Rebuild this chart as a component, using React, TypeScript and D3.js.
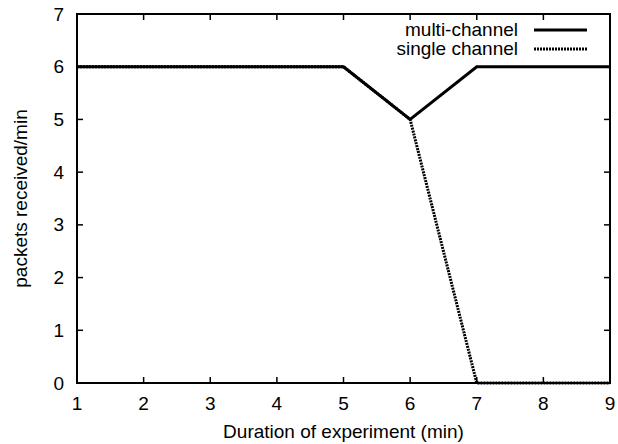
import React from "react";
import * as d3 from "d3";

const minutes = [1, 2, 3, 4, 5, 6, 7, 8, 9];
const multiChannel = [6, 6, 6, 6, 6, 5, 6, 6, 6];
const singleChannel = [6, 6, 6, 6, 6, 5, 0, 0, 0];
const xTicks = [1, 2, 3, 4, 5, 6, 7, 8, 9];
const yTicks = [0, 1, 2, 3, 4, 5, 6, 7];

const W = 618;
const H = 444;
const M = { left: 77, right: 8, top: 14, bottom: 61 };
const FONT = "'Liberation Sans', Arial, Helvetica, sans-serif";
const FS = 19;

export default function App() {
  const x = d3.scaleLinear().domain([1, 9]).range([M.left, W - M.right]);
  const y = d3.scaleLinear().domain([0, 7]).range([H - M.bottom, M.top]);
  const line = d3
    .line<number>()
    .x((_, i) => x(minutes[i]))
    .y((d) => y(d));

  const x0 = x.range()[0];
  const x1 = x.range()[1];
  const y0 = y.range()[0];
  const y1 = y.range()[1];
  const tick = 6;

  return (
    <svg
      width={W}
      height={H}
      style={{ position: "absolute", left: 0, top: 0, background: "#fff" }}
      fontFamily={FONT}
    >
      {/* ticks on all four sides, pointing inward */}
      {xTicks.map((t) => (
        <g key={"x" + t}>
          <line x1={x(t)} x2={x(t)} y1={y0} y2={y0 - tick} stroke="#000" strokeWidth={1.5} />
          <line x1={x(t)} x2={x(t)} y1={y1} y2={y1 + tick} stroke="#000" strokeWidth={1.5} />
          <text x={x(t)} y={y0 + 27} textAnchor="middle" fontSize={FS}>
            {t}
          </text>
        </g>
      ))}
      {yTicks.map((t) => (
        <g key={"y" + t}>
          <line x1={x0} x2={x0 + tick} y1={y(t)} y2={y(t)} stroke="#000" strokeWidth={1.5} />
          <line x1={x1} x2={x1 - tick} y1={y(t)} y2={y(t)} stroke="#000" strokeWidth={1.5} />
          <text x={x0 - 13} y={y(t) + 6.5} textAnchor="end" fontSize={FS}>
            {t}
          </text>
        </g>
      ))}

      <path d={line(multiChannel) ?? ""} fill="none" stroke="#000" strokeWidth={3} />
      <path
        d={line(singleChannel) ?? ""}
        fill="none"
        stroke="#000"
        strokeWidth={3}
        strokeDasharray="2,1"
      />

      <rect
        x={x0}
        y={y1}
        width={x1 - x0}
        height={y0 - y1}
        fill="none"
        stroke="#000"
        strokeWidth={2}
      />

      {/* legend */}
      <text x={518} y={36} textAnchor="end" fontSize={FS}>
        multi-channel
      </text>
      <line x1={534} x2={587} y1={30} y2={30} stroke="#000" strokeWidth={3} />
      <text x={518} y={55} textAnchor="end" fontSize={FS}>
        single channel
      </text>
      <line
        x1={534}
        x2={587}
        y1={49}
        y2={49}
        stroke="#000"
        strokeWidth={3}
        strokeDasharray="2,1"
      />

      <text x={(x0 + x1) / 2} y={438} textAnchor="middle" fontSize={FS}>
        Duration of experiment (min)
      </text>
      <text
        transform={`translate(27,${(y0 + y1) / 2}) rotate(-90)`}
        textAnchor="middle"
        fontSize={FS}
      >
        packets received/min
      </text>
    </svg>
  );
}
